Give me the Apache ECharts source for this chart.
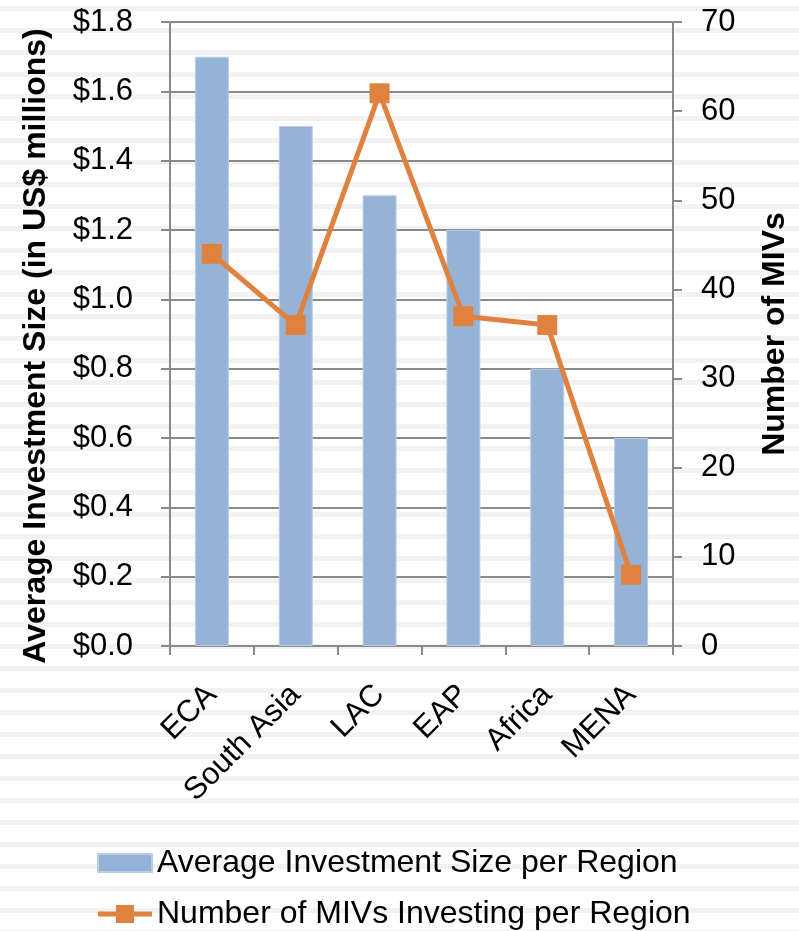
<!DOCTYPE html>
<html>
<head>
<meta charset="utf-8">
<script src="https://cdn.jsdelivr.net/npm/echarts@6/dist/echarts.min.js"></script>
<style>
  html, body { margin: 0; padding: 0; }
  body {
    width: 799px; height: 931px;
    background: repeating-linear-gradient(to bottom,
      #ffffff 0px, #ffffff 6px,
      #f2f2f2 6px, #f2f2f2 11px,
      #ffffff 11px, #ffffff 22px);
  }
  #chart { width: 799px; height: 931px; }
</style>
</head>
<body>
<div id="chart"></div>
<script>
// Regions and the two measures plotted for each
const regions = ['ECA', 'South Asia', 'LAC', 'EAP', 'Africa', 'MENA'];
const avgInvestmentSize = [1.7, 1.5, 1.3, 1.2, 0.8, 0.6];   // US$ millions
const numberOfMIVs = [44, 36, 62, 37, 36, 8];

const barName = 'Average Investment Size per Region';
const lineName = 'Number of MIVs Investing per Region';

const FONT = '"Liberation Sans", Arial, sans-serif';
const AXIS_GRAY = '#8a8a8a';
const ORANGE = '#e0823f';

// Legend glyph for the line series: a thick stroke with a square marker on it
const lineWithSquareIcon =
  'path://M0,6.5 L18,6.5 L18,0 L36,0 L36,6.5 L54,6.5 L54,11.5 L36,11.5 L36,18 L18,18 L18,11.5 L0,11.5 Z';

const chart = echarts.init(document.getElementById('chart'), null, { renderer: 'canvas' });

chart.setOption({
  backgroundColor: 'transparent',
  textStyle: { fontFamily: FONT },
  animation: false,
  grid: { left: 170, right: 122, top: 22, bottom: 285, containLabel: false },
  legend: {
    orient: 'vertical',
    left: 97,
    top: 847,
    height: 200,
    padding: 0,
    itemWidth: 54,
    itemHeight: 18,
    itemGap: 19,
    textStyle: { fontFamily: FONT, fontSize: 32, color: '#000' },
    data: [
      { name: barName, icon: 'rect' },
      { name: lineName, icon: lineWithSquareIcon }
    ]
  },
  xAxis: {
    type: 'category',
    data: regions,
    axisLine: { lineStyle: { color: AXIS_GRAY, width: 2 } },
    axisTick: { show: true, length: 9, lineStyle: { color: AXIS_GRAY, width: 2 } },
    axisLabel: { rotate: 45, margin: 44, fontSize: 31, color: '#000', fontFamily: FONT, interval: 0 }
  },
  yAxis: [
    {
      type: 'value',
      min: 0, max: 1.8, interval: 0.2,
      name: 'Average Investment Size (in US$ millions)',
      nameLocation: 'middle',
      nameGap: 118,
      nameRotate: 90,
      nameTextStyle: {
        fontFamily: FONT, fontSize: 32, fontWeight: 'bold', color: '#000',
        padding: [0, 24, 0, 0]
      },
      axisLine: { show: true, lineStyle: { color: AXIS_GRAY, width: 2 } },
      axisTick: { show: true, length: 9, lineStyle: { color: AXIS_GRAY, width: 2 } },
      axisLabel: {
        margin: 37, fontSize: 31, color: '#000', fontFamily: FONT,
        formatter: v => '$' + v.toFixed(1)
      },
      splitLine: { show: true, lineStyle: { color: AXIS_GRAY, width: 2 } }
    },
    {
      type: 'value',
      position: 'right',
      min: 0, max: 70, interval: 10,
      name: 'Number of MIVs',
      nameLocation: 'middle',
      nameGap: 86,
      nameRotate: 90,
      nameTextStyle: { fontFamily: FONT, fontSize: 32, fontWeight: 'bold', color: '#000' },
      axisLine: { show: true, lineStyle: { color: AXIS_GRAY, width: 2 } },
      axisTick: { show: true, length: 9, lineStyle: { color: AXIS_GRAY, width: 2 } },
      axisLabel: { margin: 28, fontSize: 31, color: '#000', fontFamily: FONT },
      splitLine: { show: false }
    }
  ],
  series: [
    {
      name: barName,
      type: 'bar',
      yAxisIndex: 0,
      data: avgInvestmentSize,
      barWidth: 34,
      itemStyle: { color: '#95b3d7', borderColor: '#b9cde5', borderWidth: 1 }
    },
    {
      name: lineName,
      type: 'line',
      yAxisIndex: 1,
      data: numberOfMIVs,
      symbol: 'rect',
      symbolSize: 20,
      lineStyle: { color: ORANGE, width: 5 },
      itemStyle: { color: ORANGE }
    }
  ]
});
</script>
</body>
</html>
